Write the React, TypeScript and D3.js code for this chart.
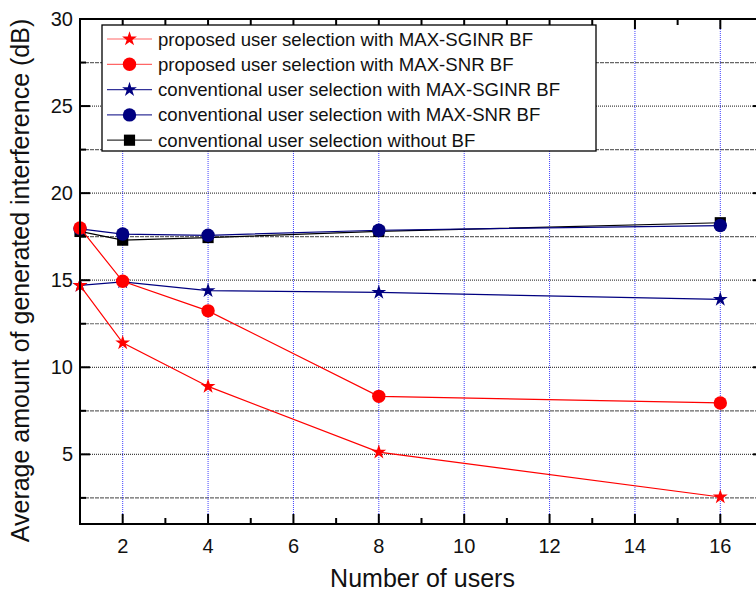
import * as d3 from 'd3';
import React from 'react';

// number of users
const users = [1, 2, 4, 8, 16];

// average generated interference (dB)
const propSginr = [14.7, 11.4, 8.9, 5.13, 2.55];
const propSnr = [18.0, 14.94, 13.24, 8.33, 7.95];
const convSginr = [14.7, 14.9, 14.4, 14.3, 13.9];
const convSnr = [17.95, 17.65, 17.58, 17.87, 18.14];
const convNoBf = [17.8, 17.3, 17.45, 17.8, 18.3];

const xTicks = [2, 4, 6, 8, 10, 12, 14, 16];
const yTicks = [5, 10, 15, 20, 25, 30];

const series = [
  { name: 'proposed user selection with MAX-SGINR BF', values: propSginr, color: '#ff0000', shape: 'star' },
  { name: 'proposed user selection with MAX-SNR BF', values: propSnr, color: '#ff0000', shape: 'circle' },
  { name: 'conventional user selection with MAX-SGINR BF', values: convSginr, color: '#000080', shape: 'star' },
  { name: 'conventional user selection with MAX-SNR BF', values: convSnr, color: '#000080', shape: 'circle' },
  { name: 'conventional user selection without BF', values: convNoBf, color: '#000000', shape: 'square' },
];

const W = 756;
const H = 591;
const left = 80;
const right = 763;
const top = 19;
const bottom = 524;

const font = '"Liberation Sans", Arial, sans-serif';

function symbolPath(shape: string) {
  if (shape === 'star') return d3.symbol(d3.symbolStar, 68)();
  if (shape === 'circle') return d3.symbol(d3.symbolCircle, 141)();
  return d3.symbol(d3.symbolSquare, 125)();
}

export default function App() {
  const x = d3.scaleLinear().domain([1, 17]).range([left, right]);
  const y = d3.scaleLinear().domain([1, 30]).range([bottom, top]);

  const line = d3.line<number>()
    .x((d, i) => x(users[i]))
    .y((d) => y(d));

  const majorY = d3.range(5, 30, 5);
  const minorY = d3.range(2.5, 30, 5);
  const minorX = d3.range(3, 17, 2);

  const drawOrder = [...series].reverse();

  return (
    <svg width={W} height={H} style={{ position: 'absolute', left: 0, top: 0 }} fontFamily={font}>
      <rect width={W} height={H} fill="#fff" />

      {/* grid */}
      {minorY.map((v) => (
        <line key={'gm' + v} x1={left} x2={right} y1={y(v)} y2={y(v)} stroke="#666" strokeWidth={1.2} strokeDasharray="4,1" />
      ))}
      {majorY.map((v) => (
        <line key={'gM' + v} x1={left} x2={right} y1={y(v)} y2={y(v)} stroke="#444" strokeWidth={1.2} strokeDasharray="1,1" />
      ))}
      {xTicks.map((v) => (
        <line key={'gx' + v} x1={x(v)} x2={x(v)} y1={top} y2={bottom} stroke="#0000ff" strokeOpacity={0.75} strokeWidth={1} strokeDasharray="1,1" />
      ))}

      {/* series */}
      {drawOrder.map((s) => (
        <g key={s.name}>
          <path d={line(s.values) || ''} fill="none" stroke={s.color} strokeWidth={1.2} />
          {s.values.map((v, i) => (
            <path key={i} d={symbolPath(s.shape) || ''} transform={`translate(${x(users[i])},${y(v)})`} fill={s.color} />
          ))}
        </g>
      ))}

      {/* frame and ticks */}
      <rect x={left} y={top} width={right - left} height={bottom - top} fill="none" stroke="#000" strokeWidth={2} />
      {d3.range(5, 30.1, 5).map((v) => (
        <g key={'ty' + v}>
          <line x1={left} x2={left + 10} y1={y(v)} y2={y(v)} stroke="#000" strokeWidth={2} />
          <line x1={right} x2={right - 10} y1={y(v)} y2={y(v)} stroke="#000" strokeWidth={2} />
        </g>
      ))}
      {minorY.map((v) => (
        <g key={'tym' + v}>
          <line x1={left} x2={left + 6} y1={y(v)} y2={y(v)} stroke="#000" strokeWidth={2} />
          <line x1={right} x2={right - 6} y1={y(v)} y2={y(v)} stroke="#000" strokeWidth={2} />
        </g>
      ))}
      {xTicks.map((v) => (
        <g key={'tx' + v}>
          <line x1={x(v)} x2={x(v)} y1={bottom} y2={bottom - 10} stroke="#000" strokeWidth={2} />
          <line x1={x(v)} x2={x(v)} y1={top} y2={top + 10} stroke="#000" strokeWidth={2} />
        </g>
      ))}
      {minorX.map((v) => (
        <g key={'txm' + v}>
          <line x1={x(v)} x2={x(v)} y1={bottom} y2={bottom - 6} stroke="#000" strokeWidth={2} />
          <line x1={x(v)} x2={x(v)} y1={top} y2={top + 6} stroke="#000" strokeWidth={2} />
        </g>
      ))}

      {/* tick labels */}
      {xTicks.map((v) => (
        <text key={'lx' + v} x={x(v)} y={bottom + 29} textAnchor="middle" fontSize={20} fill="#111">{v}</text>
      ))}
      {yTicks.map((v) => (
        <text key={'ly' + v} x={left - 7} y={y(v) + 7} textAnchor="end" fontSize={20} fill="#111">{v}</text>
      ))}

      {/* axis titles */}
      <text x={(left + right) / 2 + 1} y={587} textAnchor="middle" fontSize={25} fill="#111">Number of users</text>
      <text transform={`translate(29,${(top + bottom) / 2 + 9}) rotate(-90)`} textAnchor="middle" fontSize={25} fill="#111">
        Average amount of generated interference (dB)
      </text>

      {/* legend */}
      <g>
        <rect x={102} y={25} width={494} height={126} fill="#fff" stroke="#000" strokeWidth={1.3} />
        {series.map((s, i) => {
          const ly = 39 + i * 25.3;
          return (
            <g key={'lg' + s.name}>
              <line x1={107} x2={152} y1={ly} y2={ly} stroke={s.color} strokeWidth={1.2} strokeOpacity={s.color === '#ff0000' ? 0.6 : 0.8} />
              <path d={symbolPath(s.shape) || ''} transform={`translate(129.5,${ly})`} fill={s.color} />
              <text x={158} y={ly + 6.5} fontSize={18.6} fill="#111">{s.name}</text>
            </g>
          );
        })}
      </g>
    </svg>
  );
}
